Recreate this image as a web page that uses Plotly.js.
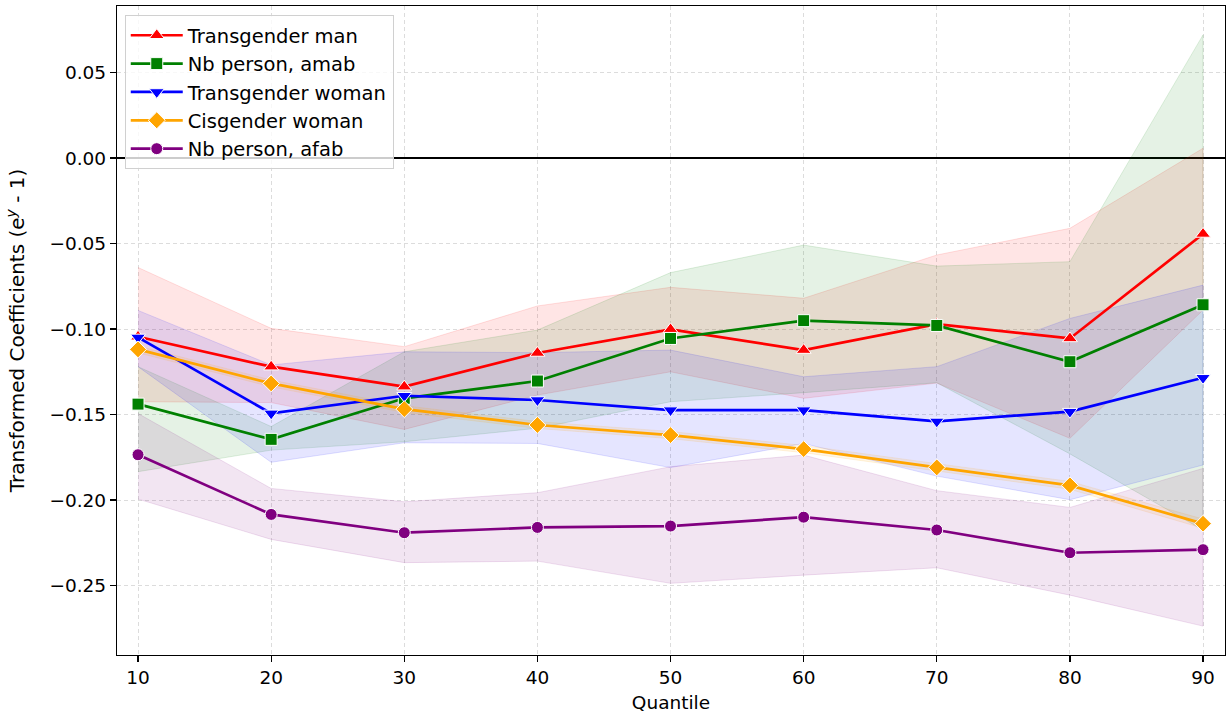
<!DOCTYPE html>
<html>
<head>
<meta charset="utf-8">
<script src="https://cdn.plot.ly/plotly-3.0.1.min.js"></script>
<style>html,body{margin:0;padding:0;background:#fff;}#chart{width:1226px;height:721px;}</style>
</head>
<body>
<div id="chart"></div>
<script>
const quantiles = [10, 20, 30, 40, 50, 60, 70, 80, 90];

const transMan     = [-0.1045, -0.1220, -0.1337, -0.1140, -0.1002, -0.1123, -0.0971, -0.1055, -0.0444];
const transManLo   = [-0.1425, -0.1430, -0.1587, -0.1386, -0.1250, -0.1405, -0.1316, -0.1639, -0.0889];
const transManHi   = [-0.0640, -0.0996, -0.1103, -0.0865, -0.0756, -0.0820, -0.0567, -0.0411,  0.0057];

const nbAmab       = [-0.1439, -0.1645, -0.1405, -0.1304, -0.1055, -0.0951, -0.0979, -0.1191, -0.0858];
const nbAmabLo     = [-0.1834, -0.1708, -0.1659, -0.1580, -0.1425, -0.1372, -0.1314, -0.1730, -0.2175];
const nbAmabHi     = [-0.1220, -0.1570, -0.1133, -0.1006, -0.0670, -0.0509, -0.0632, -0.0606,  0.0720];

const transWoman   = [-0.1049, -0.1493, -0.1390, -0.1415, -0.1474, -0.1474, -0.1540, -0.1483, -0.1285];
const transWomanLo = [-0.1220, -0.1779, -0.1665, -0.1669, -0.1810, -0.1669, -0.1860, -0.1998, -0.1795];
const transWomanHi = [-0.0891, -0.1210, -0.1133, -0.1138, -0.1123, -0.1279, -0.1220, -0.0938, -0.0743];

const cisWoman     = [-0.1119, -0.1318, -0.1468, -0.1561, -0.1620, -0.1702, -0.1809, -0.1914, -0.2138];
const cisWomanLo   = [-0.1139, -0.1338, -0.1488, -0.1581, -0.1641, -0.1723, -0.1831, -0.1937, -0.2165];
const cisWomanHi   = [-0.1099, -0.1298, -0.1448, -0.1541, -0.1599, -0.1681, -0.1787, -0.1891, -0.2111];

const nbAfab       = [-0.1735, -0.2084, -0.2191, -0.2160, -0.2152, -0.2100, -0.2175, -0.2308, -0.2290];
const nbAfabLo     = [-0.1994, -0.2230, -0.2366, -0.2357, -0.2487, -0.2439, -0.2396, -0.2556, -0.2737];
const nbAfabHi     = [-0.1494, -0.1932, -0.2010, -0.1957, -0.1805, -0.1737, -0.1945, -0.2043, -0.1815];

const seriesNames = ["Transgender man", "Nb person, amab", "Transgender woman", "Cisgender woman", "Nb person, afab"];

const series = [
  {name: seriesNames[0], y: transMan,   lo: transManLo,   hi: transManHi,   rgb: "255,0,0",   color: "#ff0000", symbol: "triangle-up",   size: 13},
  {name: seriesNames[1], y: nbAmab,     lo: nbAmabLo,     hi: nbAmabHi,     rgb: "0,128,0",   color: "#008000", symbol: "square",        size: 12},
  {name: seriesNames[2], y: transWoman, lo: transWomanLo, hi: transWomanHi, rgb: "0,0,255",   color: "#0000ff", symbol: "triangle-down", size: 13},
  {name: seriesNames[3], y: cisWoman,   lo: cisWomanLo,   hi: cisWomanHi,   rgb: "255,165,0", color: "#ffa500", symbol: "diamond",       size: 13},
  {name: seriesNames[4], y: nbAfab,     lo: nbAfabLo,     hi: nbAfabHi,     rgb: "128,0,128", color: "#800080", symbol: "circle",        size: 12}
];

const traces = [];
series.forEach(s => {
  traces.push({
    x: quantiles.concat(quantiles.slice().reverse()),
    y: s.hi.concat(s.lo.slice().reverse()),
    type: "scatter", mode: "lines", fill: "toself",
    fillcolor: "rgba(" + s.rgb + ",0.1)",
    line: {color: "rgba(" + s.rgb + ",0.12)", width: 1},
    showlegend: false, hoverinfo: "skip"
  });
});
series.forEach(s => {
  traces.push({
    x: quantiles, y: s.y, name: s.name,
    type: "scatter", mode: "lines+markers",
    line: {color: s.color, width: 2.7},
    marker: {symbol: s.symbol, size: s.size, color: s.color, line: {color: "#ffffff", width: 1}}
  });
});

const font = {family: "DejaVu Sans, sans-serif", size: 18.5, color: "#000"};
const legendFont = {family: "DejaVu Sans, sans-serif", size: 19.5, color: "#000"};

const layout = {
  width: 1226, height: 721,
  margin: {l: 117, r: 1, t: 6, b: 66, pad: 0},
  paper_bgcolor: "#ffffff", plot_bgcolor: "#ffffff",
  font: font,
  showlegend: true,
  legend: {
    x: 0.007, y: 0.986, xanchor: "left", yanchor: "top",
    bgcolor: "rgba(255,255,255,0.8)", bordercolor: "#d0d0d0", borderwidth: 1,
    font: legendFont, itemwidth: 52, tracegroupgap: 0
  },
  xaxis: {
    range: [8.42, 91.65],
    tickmode: "array", tickvals: quantiles, ticktext: quantiles.map(String),
    showgrid: true, gridcolor: "#dcdcdc", griddash: "4px,3px", gridwidth: 1,
    zeroline: false,
    showline: true, linecolor: "#000", linewidth: 1.2, mirror: true,
    ticks: "outside", ticklen: 6, tickwidth: 1.2, tickcolor: "#000",
    tickfont: font,
    title: {text: "Quantile", font: font, standoff: 8}
  },
  yaxis: {
    range: [-0.2906, 0.0889],
    tickmode: "array",
    tickvals: [0.05, 0, -0.05, -0.1, -0.15, -0.2, -0.25],
    tickformat: ".2f",
    showgrid: true, gridcolor: "#dcdcdc", griddash: "4px,3px", gridwidth: 1,
    zeroline: true, zerolinecolor: "#000", zerolinewidth: 1.8,
    showline: true, linecolor: "#000", linewidth: 1.2, mirror: true,
    ticks: "outside", ticklen: 6, tickwidth: 1.2, tickcolor: "#000",
    tickfont: font,
    title: {text: "Transformed Coefficients (e<sup><i>y</i></sup> - 1)", font: {family: "DejaVu Sans, sans-serif", size: 20, color: "#000"}, standoff: 19}
  }
};

Plotly.newPlot("chart", traces, layout, {displayModeBar: false, staticPlot: true});
</script>
</body>
</html>
